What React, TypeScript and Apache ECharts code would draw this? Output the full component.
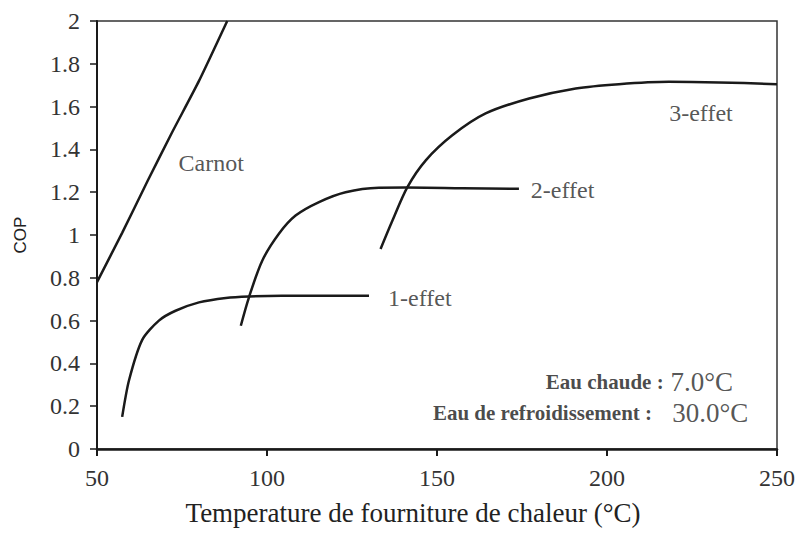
import React, { useEffect, useRef } from 'react';
import * as echarts from 'echarts';

// Carnot
const carnotT = [50, 57.4, 64.8, 72.1, 80, 88.3];
const carnotCOP = [0.78, 1.01, 1.25, 1.48, 1.72, 2.0];
// 1-effet
const effet1T = [57.4, 59.4, 63.3, 68.2, 73.1, 80, 87.9, 94.7, 104.4, 130];
const effet1COP = [0.15, 0.32, 0.51, 0.6, 0.646, 0.685, 0.706, 0.713, 0.716, 0.716];
// 2-effet
const effet2T = [92.3, 94.7, 98.6, 103.5, 108.4, 115.3, 123.1, 132.9, 140.8, 157.4, 174.1];
const effet2COP = [0.576, 0.709, 0.88, 1.006, 1.091, 1.154, 1.2, 1.221, 1.222, 1.219, 1.216];
// 3-effet
const effet3T = [133.4, 136.9, 141.3, 146.7, 154.5, 164.3, 177.1, 190.8, 203.5, 218.2, 232.9, 250];
const effet3COP = [0.935, 1.068, 1.224, 1.349, 1.466, 1.568, 1.638, 1.685, 1.705, 1.716, 1.713, 1.705];

const seriesNames = ['Carnot', '1-effet', '2-effet', '3-effet'];
const hotWaterTemp = 7.0;
const coolingWaterTemp = 30.0;

const xTicks = [50, 100, 150, 200, 250];
const yTicks = [0, 0.2, 0.4, 0.6, 0.8, 1, 1.2, 1.4, 1.6, 1.8, 2];

const zip = (a: number[], b: number[]) => a.map((v, i) => [v, b[i]]);

const SERIF = 'Liberation Serif, Times New Roman, serif';
const INK = '#1a1a1a';

export default function App() {
  const ref = useRef<HTMLDivElement>(null);
  useEffect(() => {
    const chart = echarts.init(ref.current!, null, { renderer: 'svg' });
    const lineStyle = { color: INK, width: 2.5 };
    const curve = (name: string, t: number[], c: number[], smooth: number) => ({
      name,
      type: 'line',
      data: zip(t, c),
      showSymbol: false,
      symbol: 'none',
      smooth,
      lineStyle,
      clip: true,
    });
    const textLabel = (x: number, y: number, text: string) => ({
      type: 'scatter',
      symbolSize: 0,
      silent: true,
      data: [[x, y]],
      label: {
        show: true,
        position: [0, 0],
        align: 'left',
        verticalAlign: 'middle',
        formatter: text,
        fontFamily: SERIF,
        fontSize: 24,
        color: '#2a2a2a',
      },
    });
    const annot = (x: number, y: number, key: string, val: number, gap: string) => ({
      type: 'scatter',
      symbolSize: 0,
      silent: true,
      data: [[x, y]],
      label: {
        show: true,
        position: [0, 0],
        align: 'left',
        verticalAlign: 'middle',
        fontFamily: SERIF,
        formatter: `{a|${key} :}{b|${gap}${val.toFixed(1)}°C}`,
        rich: {
          a: { fontFamily: SERIF, fontWeight: 'bold', fontSize: 21, color: '#1a1a1a' },
          b: { fontFamily: SERIF, fontWeight: 'normal', fontSize: 27, color: '#2a2a2a' },
        },
      },
    });
    const mkAxisLabel = () => ({
      show: true,
      margin: 17,
      fontFamily: SERIF,
      fontSize: 24,
      color: '#333',
    });
    chart.setOption({
      animation: false,
      backgroundColor: '#fff',
      textStyle: { fontFamily: SERIF },
      grid: {
        left: 97,
        right: 19,
        top: 21,
        bottom: 87,
        show: true,
        borderColor: '#333',
        borderWidth: 1.5,
        containLabel: false,
      },
      xAxis: {
        type: 'value',
        min: xTicks[0],
        max: xTicks[xTicks.length - 1],
        interval: 50,
        name: 'Temperature de fourniture de chaleur (°C)',
        nameLocation: 'middle',
        nameGap: 50,
        nameTextStyle: { fontFamily: SERIF, fontSize: 27, color: '#222', padding: [0, 48, 0, 0] },
        axisLine: { show: true, lineStyle: { color: INK, width: 2.5 } },
        axisTick: { show: true, inside: false, length: 7, lineStyle: { color: INK, width: 2 } },
        axisLabel: mkAxisLabel(),
        splitLine: { show: false },
      },
      yAxis: {
        type: 'value',
        min: yTicks[0],
        max: yTicks[yTicks.length - 1],
        interval: 0.2,
        name: 'COP',
        nameLocation: 'middle',
        nameRotate: 90,
        nameGap: 68,
        nameTextStyle: { fontFamily: 'Liberation Sans, Arial, sans-serif', fontSize: 17, color: '#222' },
        axisLine: { show: true, lineStyle: { color: INK, width: 2 } },
        axisTick: { show: true, inside: false, length: 7, lineStyle: { color: INK, width: 1.5 } },
        axisLabel: mkAxisLabel(),
        splitLine: { show: false },
      },
      series: [
        curve(seriesNames[0], carnotT, carnotCOP, 0.2),
        curve(seriesNames[1], effet1T, effet1COP, 0.25),
        curve(seriesNames[2], effet2T, effet2COP, 0.3),
        curve(seriesNames[3], effet3T, effet3COP, 0.3),
        textLabel(74.0, 1.336, seriesNames[0]),
        textLabel(135.6, 0.706, seriesNames[1]),
        textLabel(177.6, 1.21, seriesNames[2]),
        textLabel(218.3, 1.57, seriesNames[3]),
        annot(182, 0.313, 'Eau chaude', hotWaterTemp, ' '),
        annot(148.8, 0.168, 'Eau de refroidissement', coolingWaterTemp, '   '),
      ],
    });
    return () => chart.dispose();
  }, []);
  return (
    <div
      ref={ref}
      style={{ position: 'fixed', left: 0, top: 0, width: 798, height: 536, background: '#fff' }}
    />
  );
}
